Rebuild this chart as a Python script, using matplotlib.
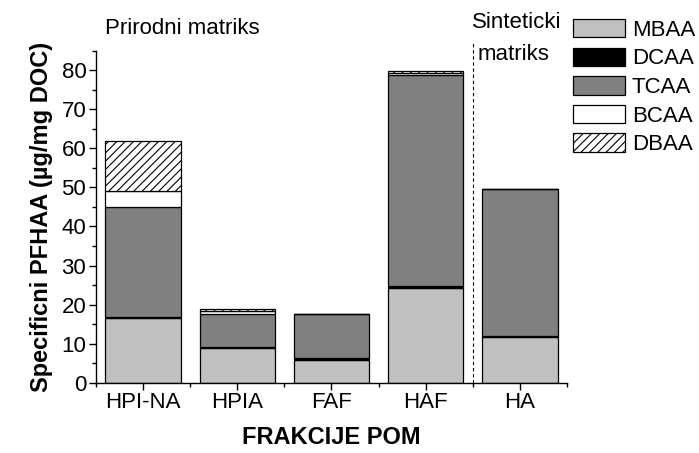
import numpy as np
import matplotlib
matplotlib.use('Agg')
import matplotlib.pyplot as plt
from matplotlib.ticker import MultipleLocator, FixedLocator

plt.rcParams['font.family'] = ['Liberation Sans', 'DejaVu Sans']
plt.rcParams['hatch.linewidth'] = 0.8

categories = ['HPI-NA', 'HPIA', 'FAF', 'HAF', 'HA']
mbaa = [16.6, 9.0, 5.8, 24.2, 11.8]
dcaa = [0.2, 0.2, 0.4, 0.5, 0.2]
tcaa = [28.1, 8.3, 11.3, 54.2, 37.5]
bcaa = [4.3, 0.8, 0.0, 0.3, 0.2]
dbaa = [12.8, 0.6, 0.0, 0.5, 0.0]

series = [
    ('MBAA', mbaa, '#c0c0c0', None),
    ('DCAA', dcaa, '#000000', None),
    ('TCAA', tcaa, '#808080', None),
    ('BCAA', bcaa, '#ffffff', None),
    ('DBAA', dbaa, '#ffffff', '////'),
]

fig = plt.figure(figsize=(6.99, 4.53), dpi=100)
ax = fig.add_axes([0.1373, 0.1552, 0.6738, 0.7329])

x = np.arange(len(categories))
bottom = np.zeros(len(categories))
handles = []
for name, vals, color, hatch in series:
    vals = np.array(vals)
    b = ax.bar(x, vals, width=0.8, bottom=bottom, color=color, edgecolor='black',
               linewidth=0.9, hatch=hatch, label=name)
    handles.append(b)
    bottom += vals

# divider between natural and synthetic matrices
ax.axvline(3.5, ymin=0, ymax=1.026, color='black', linestyle=(0, (3, 2.5)),
           linewidth=0.8, clip_on=False)

ax.set_xlim(-0.5, 4.5)
ax.set_ylim(0, 85)
ax.set_xticks(x)
ax.set_xticklabels(categories)
ax.xaxis.set_minor_locator(FixedLocator(np.arange(-0.5, 5, 1)))
ax.yaxis.set_major_locator(MultipleLocator(10))
ax.yaxis.set_minor_locator(MultipleLocator(5))
ax.tick_params(axis='both', which='major', labelsize=16, length=5, width=1, direction='out')
ax.tick_params(axis='both', which='minor', length=3, width=1, direction='out')
ax.tick_params(axis='x', which='major', pad=2)
ax.tick_params(axis='y', which='major', pad=2)

for side in ['top', 'right']:
    ax.spines[side].set_visible(False)
for side in ['left', 'bottom']:
    ax.spines[side].set_linewidth(1)

ax.set_ylabel('Specificni PFHAA (µg/mg DOC)', fontsize=17, fontweight='bold', labelpad=6)
ax.set_xlabel('FRAKCIJE POM', fontsize=17, fontweight='bold', labelpad=9)

fig.text(105 / 699, 1 - 28 / 453, 'Prirodni matriks', fontsize=16, va='center', ha='left')
fig.text(472 / 699, 1 - 23 / 453, 'Sinteticki', fontsize=16, va='center', ha='left')
fig.text(478 / 699, 1 - 55 / 453, 'matriks', fontsize=16, va='center', ha='left')

fig.legend(handles=handles, loc='upper left', bbox_to_anchor=(573 / 699, 1 - 19 / 453),
           frameon=False, fontsize=16, borderpad=0, borderaxespad=0,
           handlelength=2.35, handleheight=0.9, handletextpad=0.3, labelspacing=0.3)

fig.savefig('out.png', dpi=100)
